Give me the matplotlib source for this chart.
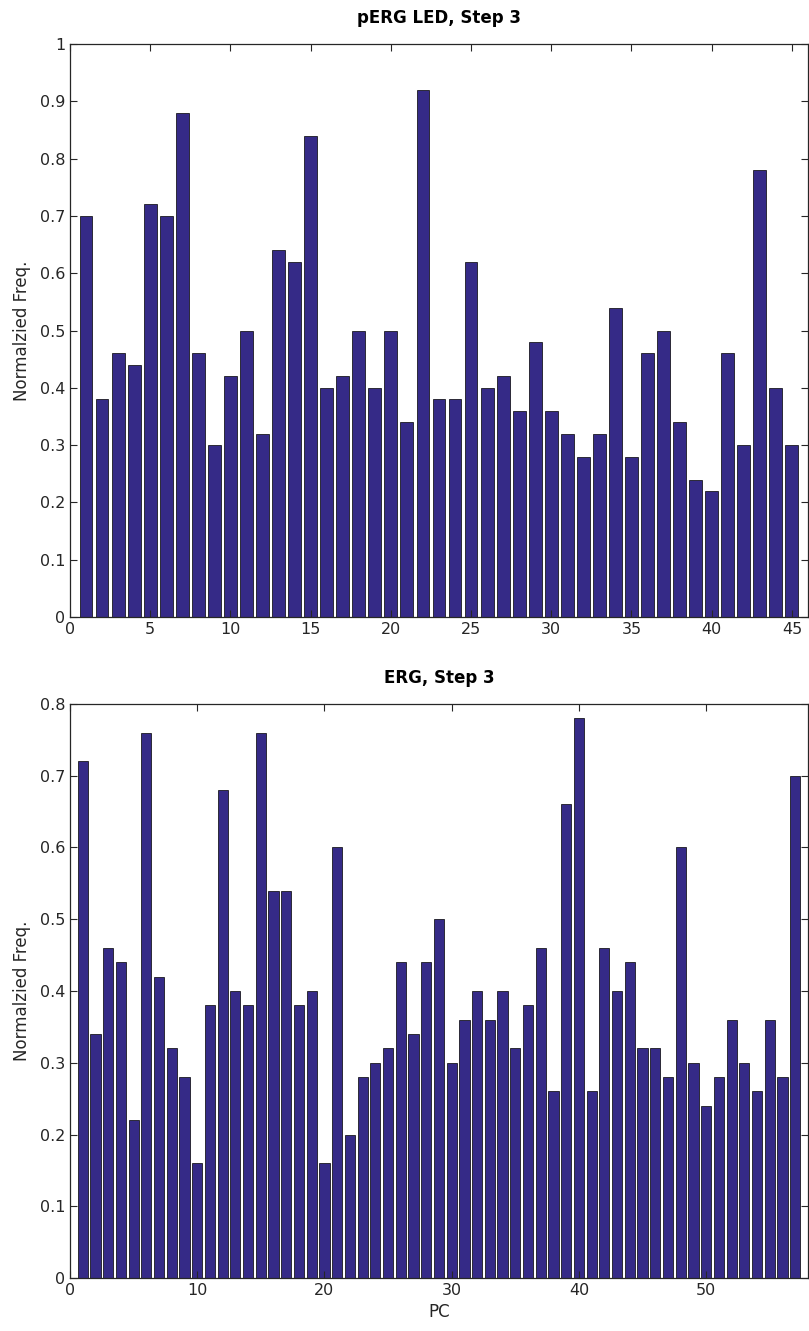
import numpy as np
import matplotlib
matplotlib.use("Agg")
import matplotlib.pyplot as plt

# pERG LED, step 3 (45 PCs)
perg_vals = [0.70, 0.38, 0.46, 0.44, 0.72, 0.70, 0.88, 0.46, 0.30, 0.42,
             0.50, 0.32, 0.64, 0.62, 0.84, 0.40, 0.42, 0.50, 0.40, 0.50,
             0.34, 0.92, 0.38, 0.38, 0.62, 0.40, 0.42, 0.36, 0.48, 0.36,
             0.32, 0.28, 0.32, 0.54, 0.28, 0.46, 0.50, 0.34, 0.24, 0.22,
             0.46, 0.30, 0.78, 0.40, 0.30]

# ERG, step 3 (57 PCs)
erg_vals = [0.72, 0.34, 0.46, 0.44, 0.22, 0.76, 0.42, 0.32, 0.28, 0.16,
            0.38, 0.68, 0.40, 0.38, 0.76, 0.54, 0.54, 0.38, 0.40, 0.16,
            0.60, 0.20, 0.28, 0.30, 0.32, 0.44, 0.34, 0.44, 0.50, 0.30,
            0.36, 0.40, 0.36, 0.40, 0.32, 0.38, 0.46, 0.26, 0.66, 0.78,
            0.26, 0.46, 0.40, 0.44, 0.32, 0.32, 0.28, 0.60, 0.30, 0.24,
            0.28, 0.36, 0.30, 0.26, 0.36, 0.28, 0.70]

perg_pc = np.arange(1, len(perg_vals) + 1)
erg_pc = np.arange(1, len(erg_vals) + 1)

bar_color = "#352a87"
txt = "#262626"

plt.rcParams["font.family"] = "DejaVu Sans"
plt.rcParams["font.size"] = 11

fig = plt.figure(figsize=(8.09, 13.31), dpi=100)
ax1 = fig.add_axes([0.0865, 0.5364, 0.9122, 0.4305])
ax2 = fig.add_axes([0.0865, 0.0398, 0.9122, 0.4313])


def style(ax, title, xmax, ymax, yticks, xticks):
    ax.set_xlim(0, xmax)
    ax.set_ylim(0, ymax)
    ax.set_yticks(yticks)
    ax.set_yticklabels([("%g" % t) for t in yticks])
    ax.set_xticks(xticks)
    ax.tick_params(direction="in", length=5, width=0.8, top=True, right=True,
                   colors=txt, labelsize=11.5, labelcolor=txt)
    for s in ax.spines.values():
        s.set_color(txt)
        s.set_linewidth(0.9)
    ax.set_title(title, fontweight="bold", fontsize=12, color="black", pad=15)
    ax.set_ylabel("Normalzied Freq.", fontsize=12, color=txt, labelpad=6)


ax1.bar(perg_pc, perg_vals, width=0.8, color=bar_color, edgecolor="black", linewidth=0.5)
style(ax1, "pERG LED, Step 3", 46, 1.0, np.arange(0, 1.01, 0.1), np.arange(0, 46, 5))

ax2.bar(erg_pc, erg_vals, width=0.8, color=bar_color, edgecolor="black", linewidth=0.5)
style(ax2, "ERG, Step 3", 58, 0.8, np.arange(0, 0.81, 0.1), np.arange(0, 58, 10))
ax2.set_xlabel("PC", fontsize=12, color=txt, labelpad=4)

fig.savefig("out.png", dpi=100)
